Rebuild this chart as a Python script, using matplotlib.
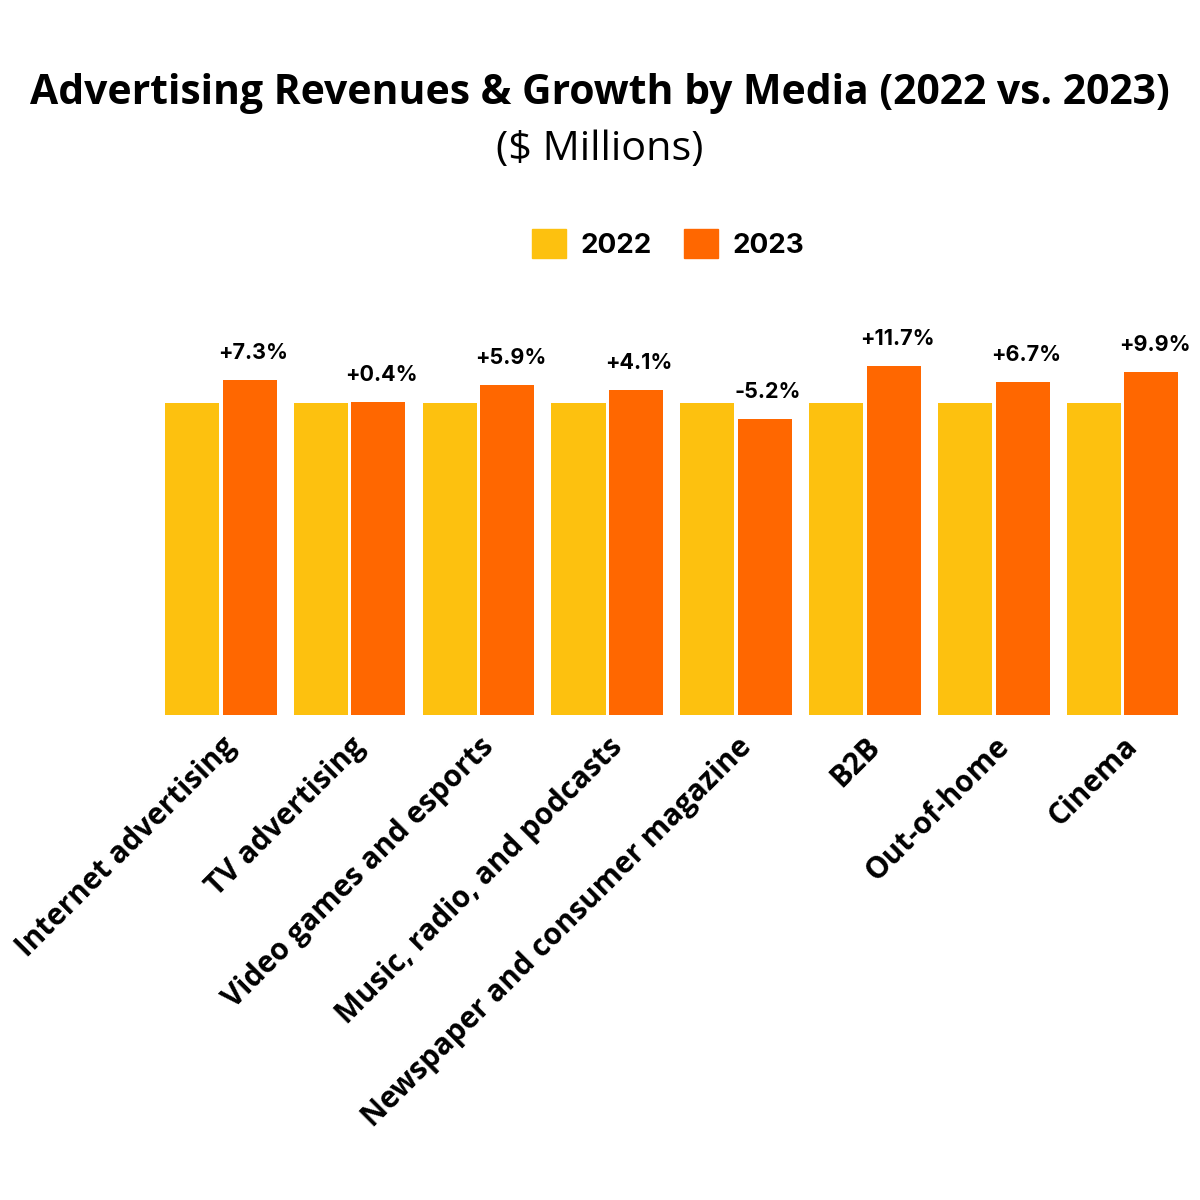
import matplotlib.pyplot as plt
import numpy as np
from matplotlib.patches import Patch

media = ['Internet advertising', 'TV advertising', 'Video games and esports',
         'Music, radio, and podcasts', 'Newspaper and consumer magazine',
         'B2B', 'Out-of-home', 'Cinema']
# revenue index, 2022 = 100
rev_2022 = [100, 100, 100, 100, 100, 100, 100, 100]
rev_2023 = [107.3, 100.4, 105.9, 104.1, 94.8, 111.7, 106.7, 109.9]
growth = ['+7.3%', '+0.4%', '+5.9%', '+4.1%', '-5.2%', '+11.7%', '+6.7%', '+9.9%']

c22 = '#FDC10F'
c23 = '#FF6700'

fig = plt.figure(figsize=(12, 12), dpi=100)
ax = fig.add_axes([0.1375, 0.404, 0.8445, 0.346])

x = np.arange(len(media))
w = 0.42
off = 0.2235
ax.bar(x - off, rev_2022, w, color=c22)
ax.bar(x + off, rev_2023, w, color=c23)

for i in range(len(media)):
    ax.annotate(growth[i], (x[i] + off + 0.025, rev_2023[i]), xytext=(0, 27),
                textcoords='offset pixels', ha='center', va='center',
                fontsize=15.5, fontweight='bold', family='Inter')

ax.set_xlim(-0.433, 7.433)
ax.set_ylim(0, 133)
ax.set_yticks([])
ax.set_xticks(x)
ax.set_xticklabels(media, rotation=45, ha='right', rotation_mode='anchor',
                   fontsize=21.3, fontweight='bold', family='Open Sans')
ax.tick_params(axis='x', length=0, pad=12)
for s in ax.spines.values():
    s.set_visible(False)

fig.text(0.5, 1 - 93 / 1200, 'Advertising Revenues & Growth by Media (2022 vs. 2023)',
         ha='center', va='center', fontsize=29.4, fontweight='bold', family='Open Sans')
fig.text(0.5, 1 - 150 / 1200, '($ Millions)', ha='center', va='center',
         fontsize=29.8, family='Open Sans')

handles = [Patch(color=c22, label='2022'), Patch(color=c23, label='2023')]
fig.legend(handles=handles, loc='center', bbox_to_anchor=(0.5565, 1 - 244 / 1200),
           ncol=2, frameon=False, prop={'family': 'Inter', 'weight': 'bold', 'size': 20},
           handlelength=1.25, handleheight=1.25, handletextpad=0.5, columnspacing=1.15)

fig.savefig('out.png')
